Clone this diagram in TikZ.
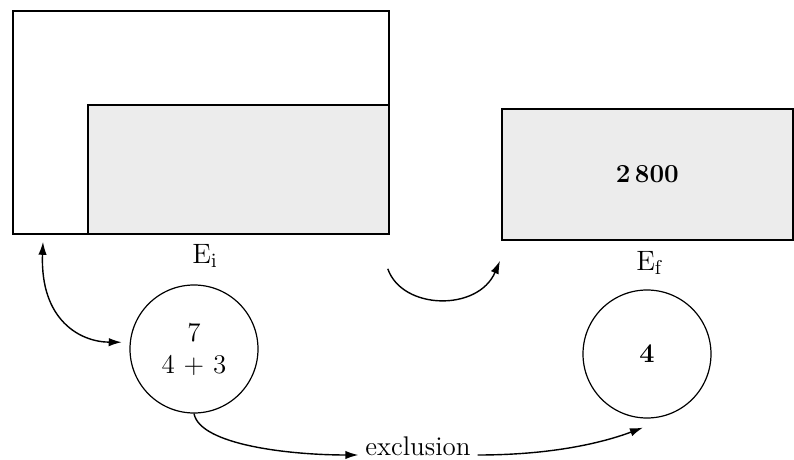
\documentclass[tikz,border=0pt]{standalone}
\usepackage{tikz}
\usetikzlibrary{arrows.meta,positioning,calc}
\tikzset{
  zone/.style={draw, line width=0.9pt, inner sep=0pt},
  stipple/.style={zone, fill=gray!15},
  pool/.style={draw, circle, semithick, minimum size=64pt, inner sep=0pt,
               align=center, font=\fontsize{13.5}{17}\selectfont},
  lbl/.style={font=\fontsize{14}{16}\selectfont},
  flow/.style={-{Latex[length=6.5pt,width=4.2pt]}, line width=0.7pt},
}

\begin{document}
\begin{tikzpicture}[x=0.5pt, y=-0.5pt]
  \useasboundingbox (0,0) rectangle (794,460);
  % initial state
  \node[zone, anchor=north west, minimum width=188pt, minimum height=111.5pt] (outer) at (12,10) {};
  \node[stipple, anchor=south east, minimum width=150.5pt, minimum height=64.5pt] (inner) at (outer.south east) {};
  \node[lbl] (ei) at (205,256) {E$_{\mathrm{i}}$};
  \node[pool] (ci) at (194,349) {7\\[-1pt]4 + 3};
  % final state
  \node[stipple, anchor=north west, minimum width=145.5pt, minimum height=65.5pt,
        font=\fontsize{13}{15}\selectfont\bfseries] (fin) at (501,108) {2\,800};
  \node[lbl] (ef) at (650,263) {E$_{\mathrm{f}}$};
  \node[pool, font=\fontsize{13.5}{17}\selectfont\bfseries] (cf) at (647,354) {4};
  \node[font=\fontsize{13.5}{16}\selectfont, anchor=base] (excl) at (418,455) {exclusion};
  % connectors
  \coordinate (up) at ($(outer.south west)+(31,7)$);
  \coordinate (arcA) at ($(outer.south east)+(-2,34)$);
  \coordinate (arcB) at ($(fin.south west)+(-1,20)$);
  \coordinate (tip) at ($(cf.south)+(-4,9)$);
  \draw[flow, {Latex[length=6.5pt,width=4.2pt]}-{Latex[length=6.5pt,width=4.2pt]}]
    (up) .. controls (40,320) and (80,342) .. ($(ci.174)+(-8,0)$);
  \draw[flow] (arcA) .. controls (402,310) and (478,312) .. (arcB);
  \draw[flow] (ci.south) .. controls (200,445) and (290,455) .. (excl.base west);
  \draw[flow] (excl.base east) .. controls (560,455) and (610,440) .. (tip);
\end{tikzpicture}
\end{document}
